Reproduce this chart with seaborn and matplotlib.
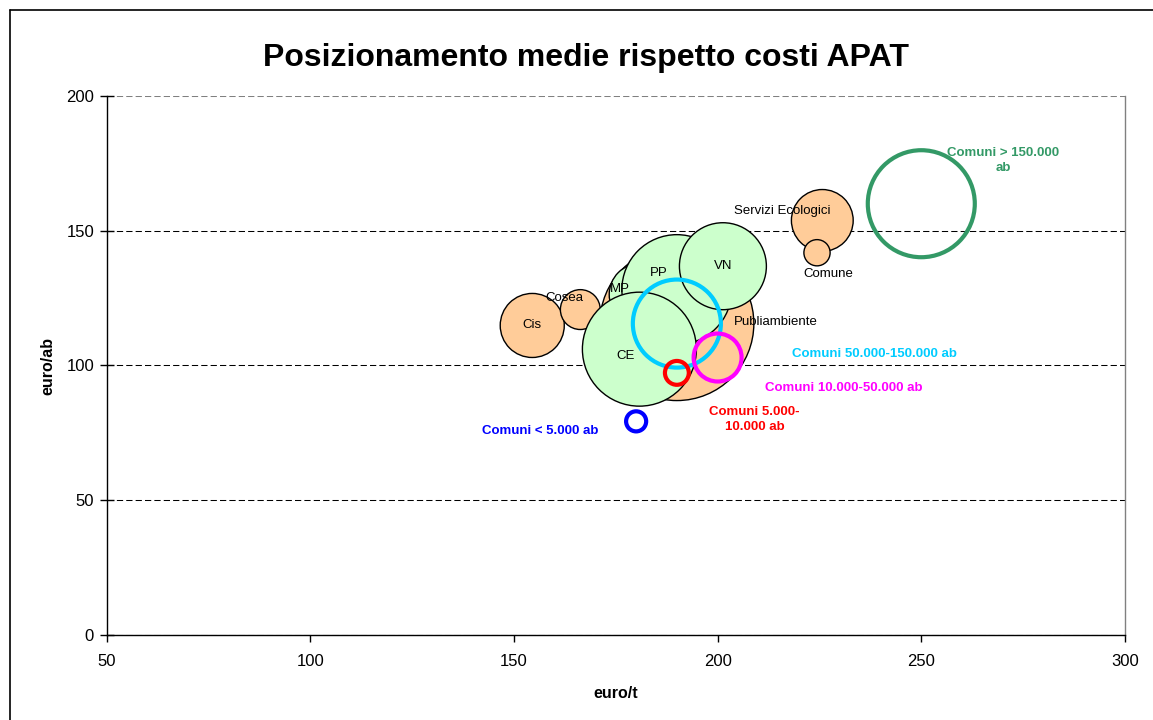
import matplotlib
matplotlib.use("Agg")
import matplotlib.pyplot as plt
from matplotlib.lines import Line2D
import pandas as pd
import seaborn as sns

# gestori: costo medio per tonnellata e per abitante, dimensione della bolla
gestori = ["Publiambiente", "Cis", "Cosea", "MP", "PP", "VN", "CE",
           "Servizi Ecologici", "Comune"]
gestori_gruppo = ["arancio", "arancio", "arancio", "verde", "verde", "verde",
                  "verde", "arancio", "arancio"]
gestori_euro_t = [190.0, 154.5, 166.3, 181.0, 190.0, 201.3, 180.8, 225.7, 224.4]
gestori_euro_ab = [115.5, 114.8, 120.7, 126.3, 128.1, 136.8, 106.0, 153.8, 141.8]
gestori_dim = [100.0, 17.3, 6.7, 16.2, 51.0, 31.9, 54.8, 16.1, 2.9]

# medie APAT per classe di comuni
fasce = ["Comuni 50.000-150.000 ab", "Comuni 5.000-\n10.000 ab",
         "Comuni 10.000-50.000 ab", "Comuni < 5.000 ab", "Comuni > 150.000\nab"]
fasce_euro_t = [190.0, 190.0, 200.0, 180.0, 250.0]
fasce_euro_ab = [115.5, 97.2, 102.9, 79.2, 160.0]
fasce_dim = [32.7, 2.4, 9.7, 1.7, 48.3]

gruppo_colori = {"arancio": "#FFCC99", "verde": "#CCFFCC"}
fasce_colori = dict(zip(fasce, ["#00CCFF", "#FF0000", "#FF00FF", "#0000FF", "#339966"]))

# spostamento delle etichette (punti) rispetto al centro della bolla
off_gestori = [(71, 1), (0, 0), (-11.5, 8.6), (-14.4, 3.6), (-13, 12.2), (0, 0),
               (-10, -4.7), (-28.8, 6.5), (8, -15)]
off_fasce = [(142.6, -21.6), (56, -33.8), (90.7, -21.6), (-69, -7.2), (59, 31)]

K = 122.9  # punti^2 per unita' di dimensione

df_g = pd.DataFrame({"gestore": gestori, "gruppo": gestori_gruppo,
                     "euro_t": gestori_euro_t, "euro_ab": gestori_euro_ab,
                     "dim": gestori_dim})
df_f = pd.DataFrame({"fascia": fasce, "euro_t": fasce_euro_t,
                     "euro_ab": fasce_euro_ab, "dim": fasce_dim})

sns.set_style("white")
plt.rcParams["font.family"] = ["Liberation Sans", "DejaVu Sans"]
plt.rcParams["text.color"] = "black"
plt.rcParams["axes.labelcolor"] = "black"
plt.rcParams["xtick.color"] = "black"
plt.rcParams["ytick.color"] = "black"

fig = plt.figure(figsize=(11.53, 7.2), dpi=100)
ax = fig.add_axes([0.0924, 0.1185, 0.8833, 0.7482])

sns.scatterplot(data=df_g, x="euro_t", y="euro_ab", hue="gruppo", palette=gruppo_colori,
                size="dim", sizes={v: K * v for v in gestori_dim},
                edgecolor="black", linewidth=1, alpha=1, legend=False, ax=ax, zorder=3)

sns.scatterplot(data=df_f, x="euro_t", y="euro_ab", hue="fascia", palette=fasce_colori,
                size="dim", sizes={v: K * v for v in fasce_dim},
                linewidth=3, alpha=1, legend=False, ax=ax, zorder=4)
rings = ax.collections[-1]
rings.set_edgecolors(rings.get_facecolors())
rings.set_facecolors("none")
rings.set_linewidth(3)

for name, x, y, off in zip(gestori, gestori_euro_t, gestori_euro_ab, off_gestori):
    ax.annotate(name, (x, y), xytext=off, textcoords="offset points",
                ha="center", va="center", fontsize=9.5, color="black", zorder=6)

for name, x, y, off in zip(fasce, fasce_euro_t, fasce_euro_ab, off_fasce):
    ax.annotate(name, (x, y), xytext=off, textcoords="offset points",
                ha="center", va="center", fontsize=9.5, fontweight="bold",
                color=fasce_colori[name], linespacing=1.35, zorder=6)

ax.set_xlim(50, 300)
ax.set_ylim(0, 200)
ax.set_xticks(range(50, 301, 50))
ax.set_yticks(range(0, 201, 50))
ax.tick_params(axis="x", bottom=True, direction="out", length=5, width=1,
               labelsize=12, pad=9, colors="black")
ax.tick_params(axis="y", left=True, direction="inout", length=10, width=1,
               labelsize=12, pad=4, colors="black")
ax.yaxis.grid(True, color="black", linestyle=(0, (6, 3)), linewidth=0.75)
ax.set_axisbelow(True)
ax.get_ygridlines()[-1].set_color("#808080")

ax.spines["top"].set_visible(False)
ax.spines["right"].set_color("#808080")
ax.spines["left"].set_color("black")
ax.spines["bottom"].set_color("black")
for s in ax.spines.values():
    s.set_linewidth(1)

ax.set_xlabel("euro/t", fontsize=11.5, fontweight="bold", color="black")
ax.set_ylabel("euro/ab", fontsize=11.5, fontweight="bold", color="black")
ax.xaxis.set_label_coords(0.5, -0.095)
ax.yaxis.set_label_coords(-0.0506, 0.499)

fig.text(0.508, 0.919, "Posizionamento medie rispetto costi APAT",
         ha="center", va="center", fontsize=23, fontweight="bold", color="black")

# cornice del grafico
fig.add_artist(Line2D([10 / 1153, 1.01], [1 - 10 / 720] * 2, color="black", linewidth=1.2))
fig.add_artist(Line2D([10 / 1153] * 2, [-0.01, 1 - 10 / 720], color="black", linewidth=1.2))

fig.savefig("out.png", dpi=100)
